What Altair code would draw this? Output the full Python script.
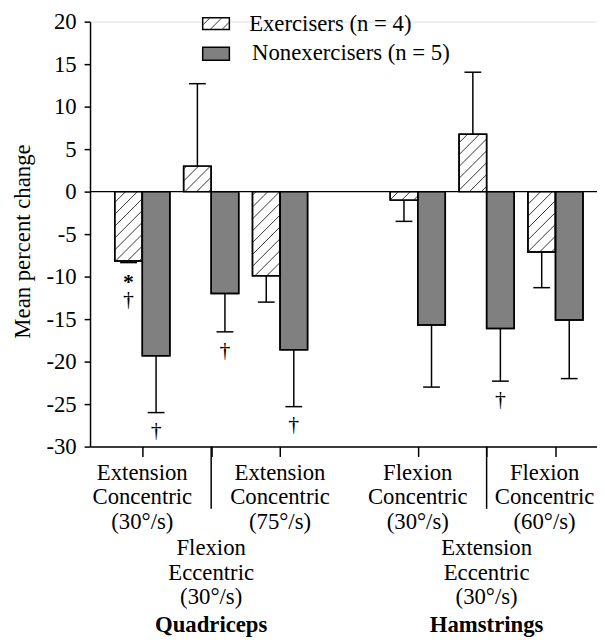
import altair as alt
import pandas as pd
import numpy as np

# ---------------- data ----------------
conditions = [
    "Extension\nConcentric\n(30°/s)",
    "Flexion\nEccentric\n(30°/s)",
    "Extension\nConcentric\n(75°/s)",
    "Flexion\nConcentric\n(30°/s)",
    "Extension\nEccentric\n(30°/s)",
    "Flexion\nConcentric\n(60°/s)",
]
muscles = ["Quadriceps", "Hamstrings"]
slots = [0, 1, 2, 4, 5, 6]
series_names = ["Exercisers (n = 4)", "Nonexercisers (n = 5)"]
ex_mean = [-8.15, 3.0, -9.9, -1.0, 6.75, -7.1]
ex_sem = [0.2, 9.7, 3.1, 2.5, 7.3, 4.2]
non_mean = [-19.3, -12.0, -18.6, -15.7, -16.1, -15.1]
non_sem = [6.7, 4.5, 6.7, 7.3, 6.2, 6.9]
ex_marks = ["*†", "", "", "", "", ""]
non_marks = ["†", "†", "†", "", "†", ""]
y_ticks = list(range(-30, 25, 5))

# ---------------- geometry / style ----------------
W, H = 513, 430
XDOM = [-0.7592, 6.603]
YDOM = [-30, 20]
BW = 0.4
CAP = 0.122
FONT = "'Liberation Serif', 'Times New Roman', Tinos, 'DejaVu Serif', serif"
FS = 23
GRAY = "#808080"
SP = 12.0  # hatch spacing (px)

rows = []
for i, s in enumerate(slots):
    for k, (name, means, sems, marks) in enumerate(
        [(series_names[0], ex_mean, ex_sem, ex_marks),
         (series_names[1], non_mean, non_sem, non_marks)]):
        m = means[i]
        e = m + np.sign(m) * sems[i]
        x0 = s - BW if k == 0 else s
        x1 = x0 + BW
        xc = (x0 + x1) / 2
        rows.append(dict(series=name, slot=s, mean=m, end=e, zero=0.0,
                         x0=x0, x1=x1, xc=xc, cl=xc - CAP, cr=xc + CAP,
                         hasstar="*" in marks[i], dag="†" in marks[i],
                         hatched=(k == 0)))
df = pd.DataFrame(rows)

# hatch segments for exerciser bars, computed in pixel space then mapped back
pxs = W / (XDOM[1] - XDOM[0])
ppu = H / (YDOM[1] - YDOM[0])
hrows = []
for r in rows:
    if not r["hatched"]:
        continue
    U0 = (r["x0"] - XDOM[0]) * pxs
    U1 = (r["x1"] - XDOM[0]) * pxs
    W0 = min(0.0, r["mean"]) * ppu
    W1 = max(0.0, r["mean"]) * ppu
    kmin = int(np.floor((W0 - U1) / SP))
    kmax = int(np.ceil((W1 - U0) / SP))
    for kk in range(kmin, kmax + 1):
        c = kk * SP
        us = max(U0, W0 - c)
        ue = min(U1, W1 - c)
        if ue - us > 0.8:
            hrows.append(dict(xa=us / pxs + XDOM[0], ya=(us + c) / ppu,
                              xb=ue / pxs + XDOM[0], yb=(ue + c) / ppu))
hdf = pd.DataFrame(hrows)

n = len(slots)
lab = pd.DataFrame(dict(slot=slots, cond=conditions,
                        row=[i % 3 == 1 for i in range(n)],
                        edge=[i == n - 1 for i in range(n)]))
mus = pd.DataFrame(dict(slot=[slots[1], slots[4]], muscle=muscles))


def legend_hatch_path(w=27.0, h=12.0, sp=SP):
    r = w / 2
    parts = []
    k = int(np.floor(-(w / 2 + h / 2) / sp))
    while k * sp <= (w / 2 + h / 2):
        c = k * sp
        us = max(-w / 2, c - h / 2)
        ue = min(w / 2, c + h / 2)
        if ue - us > 0.8:
            parts.append("M%.3f,%.3fL%.3f,%.3f" % (us / r, (c - us) / r, ue / r, (c - ue) / r))
        k += 1
    return "".join(parts)


xs = alt.Scale(domain=XDOM, nice=False, zero=False)
ys = alt.Scale(domain=YDOM, nice=False, zero=False)
xaxis = alt.Axis(values=slots, labels=False, ticks=True, tickSize=10,
                 tickWidth=1.5, tickColor="black", domainColor="black",
                 domainWidth=1.5, grid=False, title=None)
yaxis = alt.Axis(values=y_ticks, tickSize=6, tickWidth=1.5, tickColor="black",
                 domainColor="black", domainWidth=1.5, grid=False,
                 labelFont=FONT, labelFontSize=FS, labelColor="black",
                 labelPadding=8, labelExpr="toString(datum.value)",
                 title="Mean percent change", titleFont=FONT,
                 titleFontSize=FS, titleFontWeight="normal",
                 titleColor="black", titlePadding=12, titleY=222)


def X(f):
    return alt.X(f, scale=xs, axis=xaxis)


def Y(f):
    return alt.Y(f, scale=ys, axis=yaxis)


base = alt.Chart(df)

bars = base.mark_rect(stroke="black", strokeWidth=1.5).encode(
    x=X("x0:Q"), x2="x1:Q", y=Y("mean:Q"), y2="zero:Q",
    fill=alt.Fill("series:N", scale=alt.Scale(domain=series_names, range=["white", GRAY]),
                  legend=None),
)

hatch = alt.Chart(hdf).mark_rule(color="#333333", strokeWidth=1).encode(
    x=X("xa:Q"), x2="xb:Q", y=Y("ya:Q"), y2="yb:Q",
)

outline = base.mark_rect(fillOpacity=0, stroke="black", strokeWidth=1.5).encode(
    x=X("x0:Q"), x2="x1:Q", y=Y("mean:Q"), y2="zero:Q",
)

errline = base.mark_rule(color="black", strokeWidth=1.5).encode(
    x=X("xc:Q"), y=Y("mean:Q"), y2="end:Q",
)
caps = base.mark_rule(color="black", strokeWidth=1.5).encode(
    x=X("cl:Q"), x2="cr:Q", y=Y("end:Q"),
)

zero_line = alt.Chart(pd.DataFrame({"v": [0.0]})).mark_rule(color="black", strokeWidth=1.5).encode(
    y=Y("v:Q")
)

txt = dict(font=FONT, color="black")
dag1 = base.transform_filter("datum.dag && !datum.hasstar").mark_text(
    text="†", fontSize=22, dy=18, **txt).encode(x=X("xc:Q"), y=Y("end:Q"))
dag2 = base.transform_filter("datum.dag && datum.hasstar").mark_text(
    text="†", fontSize=22, dy=37, **txt).encode(x=X("xc:Q"), y=Y("end:Q"))
star = base.transform_filter("datum.hasstar").mark_text(
    text="*", fontSize=22, fontWeight="bold", dy=20, **txt).encode(x=X("xc:Q"), y=Y("end:Q"))

labbase = alt.Chart(lab)
labstyle = dict(fontSize=FS, lineBreak="\n", lineHeight=24.5, baseline="alphabetic", **txt)
sep = labbase.transform_filter("datum.row").mark_rule(color="black", strokeWidth=1.5).encode(
    x=X("slot:Q"), y=alt.value(430), y2=alt.value(493))
lab0 = labbase.transform_filter("!datum.row && !datum.edge").mark_text(**labstyle).encode(
    x=X("slot:Q"), y=alt.value(464), text="cond:N")
lab0e = labbase.transform_filter("!datum.row && datum.edge").mark_text(dx=-11, **labstyle).encode(
    x=X("slot:Q"), y=alt.value(464), text="cond:N")
lab1 = labbase.transform_filter("datum.row").mark_text(**labstyle).encode(
    x=X("slot:Q"), y=alt.value(540), text="cond:N")
muslab = alt.Chart(mus).mark_text(fontSize=FS, fontWeight="bold", baseline="alphabetic", **txt).encode(
    x=X("slot:Q"), y=alt.value(618), text="muscle:N")

one = pd.DataFrame({"a": [0]})
leg_box1 = alt.Chart(one).mark_rect(fill="white", stroke="black", strokeWidth=1.5).encode(
    x=alt.value(114), x2=alt.value(141), y=alt.value(-4), y2=alt.value(8))
leg_hatch = alt.Chart(one).mark_point(shape=legend_hatch_path(), size=729, filled=False,
                                      stroke="#333333", strokeWidth=1, opacity=1).encode(
    x=alt.value(127.5), y=alt.value(2))
leg_box2 = alt.Chart(one).mark_rect(fill=GRAY, stroke="black", strokeWidth=1.5).encode(
    x=alt.value(114), x2=alt.value(141), y=alt.value(26), y2=alt.value(39))
leg_t1 = alt.Chart(pd.DataFrame({"t": [series_names[0]]})).mark_text(
    align="left", baseline="middle", fontSize=FS, **txt).encode(
    x=alt.value(161), y=alt.value(2), text="t:N")
leg_t2 = alt.Chart(pd.DataFrame({"t": [series_names[1]]})).mark_text(
    align="left", baseline="middle", fontSize=FS, **txt).encode(
    x=alt.value(164), y=alt.value(32), text="t:N")

chart = alt.layer(
    bars, hatch, outline, zero_line, errline, caps, dag1, dag2, star,
    sep, lab0, lab0e, lab1, muslab, leg_box1, leg_hatch, leg_box2, leg_t1, leg_t2,
).properties(
    width=W, height=H,
    padding={"left": 83, "top": 10, "right": 0, "bottom": 200},
    autosize=alt.AutoSizeParams(type="none"),
).configure_view(stroke=None).configure(background="white")

chart.save("out.html", embed_options={"renderer": "svg", "actions": False})
